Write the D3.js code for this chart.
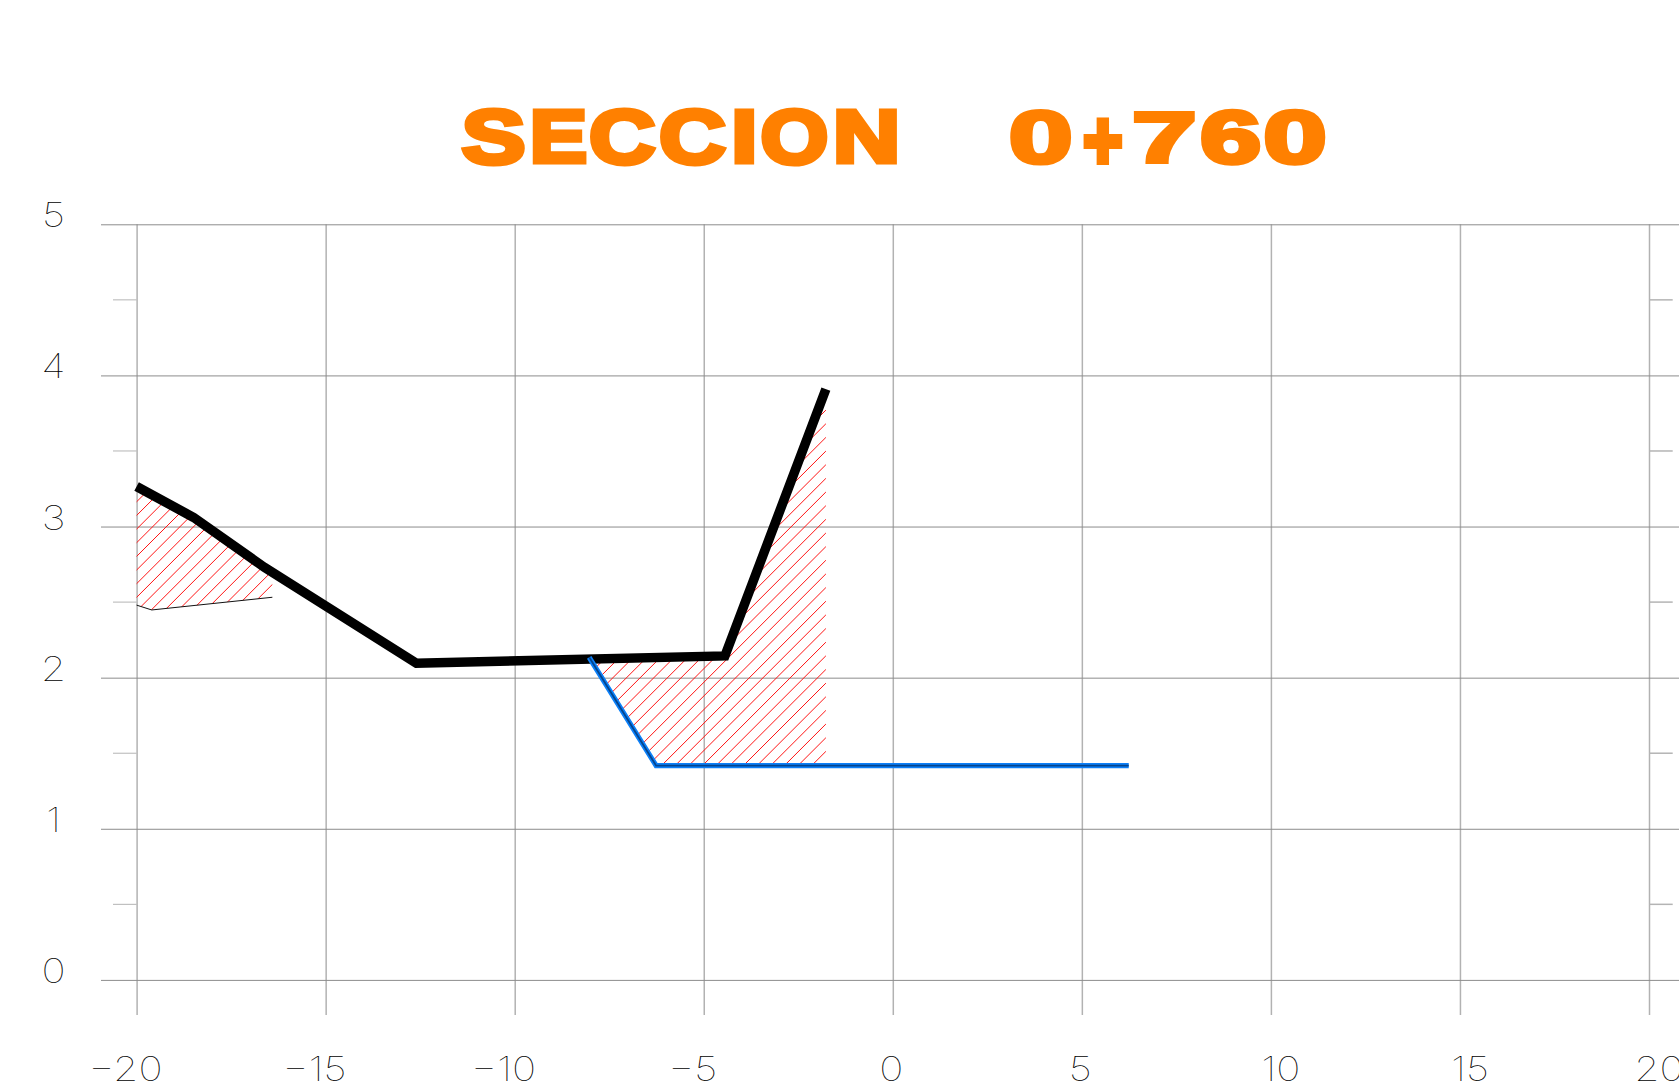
<!DOCTYPE html>
<html><head><meta charset="utf-8">
<script src="https://cdn.jsdelivr.net/npm/d3@7"></script>
<style>
html,body{margin:0;padding:0;background:#fff;overflow:hidden}
svg{display:block}
.lab{font-family:Inter,Roboto,sans-serif;font-weight:100;fill:#000}
</style></head><body>
<script>
const titleChars = ["S","E","C","C","I","O","N","0","+","7","6","0"];
const titleLeftEdges  = [461.5,532.5,590,660,734.4,761.3,836,1010.5,1082.9,1133.8,1200.2,1265];
const titleRightEdges = [525.5,587,656,726.4,754,827.4,897.3,1071.7,1122.8,1194.2,1260.3,1325.9];
const titleTops    = [107,108.3,107,107,108.3,107,108.3,108.3,118,110,108.3,108.3];
const titleBottoms = [166.3,165,166.3,166.3,165,166.3,165,166.7,165,165,166.7,166.7];
const xTicks = [-20,-15,-10,-5,0,5,10,15,20];
const yTicks = [0,1,2,3,4,5];
const yMinor = [0.5,1.5,2.5,3.5,4.5];
const terrain = [[-20,3.265],[-18.49,3.06],[-16.62,2.73],[-12.6,2.096],[-4.44,2.144],[-1.77,3.909]];
const design = [[-8.03,2.135],[-6.26,1.418],[6.24,1.418]];
const lowerLeft = [[-20,2.48],[-19.6,2.448],[-16.41,2.532]];
const cutLeft = [[-20,3.265],[-18.49,3.06],[-16.62,2.73],[-16.41,2.62],[-16.41,2.532],[-19.6,2.448],[-20,2.48]];
const cutRight = [[-8.03,2.12],[-4.44,2.144],[-1.77,3.909],[-1.77,1.418],[-6.26,1.418]];

const W=1679,H=1086;
const x=d3.scaleLinear().domain([-20,20]).range([136.6,1649]);
const y=d3.scaleLinear().domain([0,5]).range([979.9,224.3]);
const svg=d3.select("body").append("svg").attr("width",W).attr("height",H);
const line=d3.line().x(d=>x(d[0])).y(d=>y(d[1]));

// axes
const gx=svg.append("g").attr("transform","translate(0,1015)")
  .call(d3.axisBottom(x).tickValues(xTicks).tickSize(-(1015-224.3)).tickFormat(d=>d<0?"\u2212"+(-d):d));
gx.select(".domain").remove();
gx.selectAll("line").attr("stroke","#b2b2b2").attr("stroke-width",1.5);
gx.selectAll("text").attr("class","lab").attr("font-size",34).attr("x",0)
  .attr("y",0).attr("dy",0).attr("text-anchor","middle")
  .attr("transform",d=>`translate(${d<0?-11.6:(d<10?-2:9.5)},65.5) scale(1.2,1)`);

const gy=svg.append("g").attr("transform","translate(101,0)")
  .call(d3.axisLeft(y).tickValues(yTicks).tickSize(-(W-101)).tickFormat(d=>d));
gy.select(".domain").remove();
gy.selectAll("line").attr("stroke","#8c8c8c").attr("stroke-width",1);
gy.selectAll("text").attr("class","lab").attr("font-size",34)
  .attr("text-anchor","middle").attr("x",0).attr("dy",0).attr("transform","translate(-47.5,2.5) scale(1.2,1)");

svg.append("g").selectAll("line").data(yMinor).join("line")
  .attr("x1",113).attr("x2",x(-20)).attr("y1",d=>y(d)).attr("y2",d=>y(d))
  .attr("stroke","#b4b4b4").attr("stroke-width",1);
svg.append("g").selectAll("line").data(yMinor).join("line")
  .attr("x1",x(20)).attr("x2",1672.7).attr("y1",d=>y(d)).attr("y2",d=>y(d))
  .attr("stroke","#b4b4b4").attr("stroke-width",1.5);

// hatching
function hatch(id,poly,phase){
  svg.append("clipPath").attr("id",id).append("path").attr("d",line(poly)+"Z");
  const xs=poly.map(d=>x(d[0])), ys=poly.map(d=>y(d[1]));
  const lo=d3.min(xs)+d3.min(ys), hi=d3.max(xs)+d3.max(ys), step=13.65;
  const k0=Math.floor((lo-phase)/step);
  const sums=d3.range(k0,Math.ceil((hi-phase)/step)+1).map(k=>phase+k*step);
  svg.append("g").attr("clip-path",`url(#${id})`).selectAll("line").data(sums).join("line")
    .attr("x1",d=>d3.min(xs)-5).attr("y1",d=>d-d3.min(xs)+5)
    .attr("x2",d=>d3.max(xs)+5).attr("y2",d=>d-d3.max(xs)-5)
    .attr("stroke","#ff1414").attr("stroke-width",1);
}
hatch("cl",cutLeft,638.4);
hatch("cr",cutRight,1236);

svg.append("path").attr("d",line(lowerLeft)).attr("fill","none").attr("stroke","#111").attr("stroke-width",1);
svg.append("path").attr("d",line(terrain)).attr("fill","none").attr("stroke","#000").attr("stroke-width",9.5).attr("stroke-linejoin","miter");
svg.append("path").attr("d",line(design)).attr("fill","none").attr("stroke","#0d80f8").attr("stroke-width",5.2);
svg.append("path").attr("d",line(design)).attr("fill","none").attr("stroke","#04458f").attr("stroke-width",1.8);

// title: each glyph's ink is fitted to the extent
const ctx=document.createElement("canvas").getContext("2d");
const FS=80, SW=5.5;
ctx.font=`700 ${FS}px "Liberation Sans"`;
titleChars.forEach((c,i)=>{
  const m=ctx.measureText(c);
  const iw=m.actualBoundingBoxRight+m.actualBoundingBoxLeft, ih=m.actualBoundingBoxAscent+m.actualBoundingBoxDescent;
  const x0=titleLeftEdges[i]+SW/2,x1=titleRightEdges[i]-SW/2,y0=titleTops[i]+SW/2,y1=titleBottoms[i]-SW/2;
  const sx=(x1-x0)/iw, sy=(y1-y0)/ih;
  svg.append("text").text(c).attr("font-family","Liberation Sans").attr("font-weight",700).attr("font-size",FS)
    .attr("fill","#ff8000").attr("stroke","#ff8000").attr("stroke-width",SW).attr("stroke-linejoin","miter")
    .style("vector-effect","non-scaling-stroke")
    .attr("transform",`translate(${x0+m.actualBoundingBoxLeft*sx},${y1-m.actualBoundingBoxDescent*sy}) scale(${sx},${sy})`);
});
</script>
</body></html>
